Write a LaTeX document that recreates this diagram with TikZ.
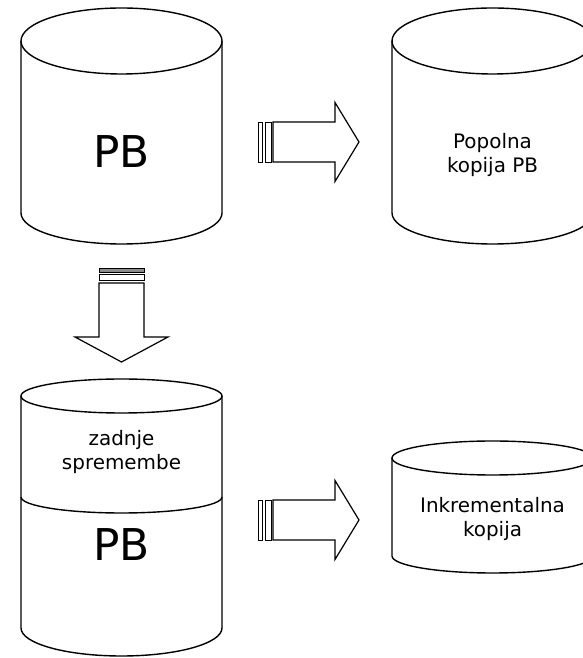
\documentclass[tikz,border=0pt]{standalone}
\usepackage{fontspec}
\setmainfont{DejaVu Sans}
\begin{document}
% Unit: 1bp per pixel, y axis pointing up
\newcommand\drawcan[6]{% cx, top cy, bottom cy, rx, top ry, bottom ry
  \draw[canline] ({#1-#4},#2) -- ({#1-#4},#3)
    arc[start angle=180,end angle=360,x radius=#4,y radius=#6]
    -- ({#1+#4},#2);
  \draw[canline] (#1,#2) ellipse[x radius=#4,y radius=#5];
}
\begin{tikzpicture}[x=1bp,y=1bp,
  canline/.style={line width=1.4bp,black,fill=white},
  blockarrow/.style={line width=1.2bp,black,fill=white,line join=miter},
  stripebox/.style={line width=0.8bp,black,fill=white},
  smalltext/.style={align=center,font=\fontsize{20}{24}\selectfont},
  bigtext/.style={font=\fontsize{44}{50}\selectfont}]
\useasboundingbox (0,0) rectangle (583,658);
\clip (0,0) rectangle (583,658);

% database cylinders
\drawcan{121.5}{617}{445}{100.5}{33}{31}
\drawcan{492.5}{617}{445}{100.5}{33}{31}
\drawcan{121.5}{262}{30}{100.5}{17}{28}
\draw[canline,fill=none] (21,161) arc[start angle=180,end angle=360,x radius=100.5,y radius=16];
\drawcan{492.5}{200}{102}{100.5}{17}{17}

% labels
\node[bigtext] (pbtop) at (121.5,506) {PB};
\node[smalltext] (full) at (492.5,503) {Popolna\\kopija PB};
\node[smalltext] (changes) at (121.5,206) {zadnje\\spremembe};
\node[bigtext] (pbbottom) at (121.5,113) {PB};
\node[smalltext] (incr) at (492.5,139) {Inkrementalna\\kopija};

% striped block arrow: full backup
\begin{scope}[yshift=516bp]
  \draw[stripebox] (258,-20) rectangle (262,20);
  \draw[stripebox] (265,-20) rectangle (271,20);
  \draw[blockarrow] (273,-20) -- (335,-20) -- (335,-39.5) -- (359,0)
    -- (335,39.5) -- (335,20) -- (273,20) -- cycle;
\end{scope}

% striped block arrow: incremental backup
\begin{scope}[yshift=138bp]
  \draw[stripebox] (258,-20) rectangle (262,20);
  \draw[stripebox] (265,-20) rectangle (271,20);
  \draw[blockarrow] (273,-20) -- (335,-20) -- (335,-39.5) -- (359,0)
    -- (335,39.5) -- (335,20) -- (273,20) -- cycle;
\end{scope}

% striped block arrow: downward
\draw[stripebox,fill=black!45] (99,390) rectangle (144,386);
\draw[stripebox] (99,384) rectangle (144,378);
\draw[blockarrow] (99,375) -- (99,321) -- (75,321) -- (121.5,296)
  -- (168,321) -- (144,321) -- (144,375) -- cycle;
\end{tikzpicture}
\end{document}
